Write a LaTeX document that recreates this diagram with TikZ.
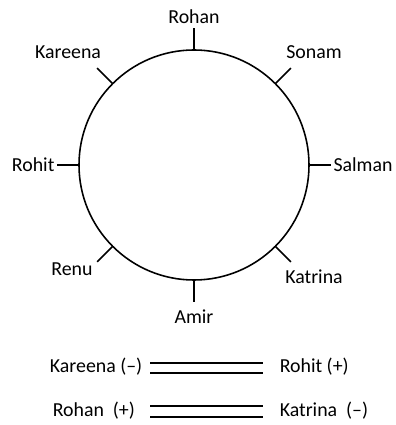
\documentclass[tikz,border=0pt]{standalone}
\usepackage{fontspec}
\setmainfont{Carlito}
\usetikzlibrary{calc, positioning}

\begin{document}
\begin{tikzpicture}[line width=0.9pt, every node/.style={font=\fontsize{11.3}{13}\selectfont, inner sep=1pt}]
            \useasboundingbox (-3.88,-5.20) rectangle (4.02,3.30);
            \draw (0,0) circle (2.3);
            \foreach \ang/\who in {90/rohan, 45/sonam, 0/salman, -45/katrina, -90/amir, -135/renu, 180/rohit, 135/kareena}
                \draw (\ang:2.3) -- (\ang:2.74) coordinate (t-\who);
            \node[anchor=south] (rohan) at ([yshift=1pt]t-rohan) {Rohan};
            \node (sonam) at (2.40,2.26) {Sonam};
            \node[anchor=west] (salman) at (t-salman) {Salman};
            \node (katrina) at (2.40,-2.24) {Katrina};
            \node[anchor=north] (amir) at ([yshift=-3pt]t-amir) {Amir};
            \node (renu) at (-2.44,-2.08) {Renu};
            \node[anchor=east] (rohit) at (t-rohit) {Rohit};
            \node (kareena) at (-2.52,2.26) {Kareena};

            \node[anchor=east, inner sep=0pt] (k1) at (-1.02,-4.04) {Kareena (--)};
            \node[anchor=west, inner sep=0pt] (r1) at (1.70,-4.04) {Rohit (+)};
            \node[anchor=west, inner sep=0pt] (r2) at (-2.84,-4.92) {Rohan~ (+)};
            \node[anchor=west, inner sep=0pt] (k2) at (1.70,-4.92) {Katrina~ (--)};
            \coordinate (a1) at (-0.88,-3.96); \coordinate (b1) at (1.38,-3.96);
            \coordinate (a2) at (-0.88,-4.16); \coordinate (b2) at (1.38,-4.16);
            \coordinate (a3) at (-0.88,-4.82); \coordinate (b3) at (1.38,-4.82);
            \coordinate (a4) at (-0.88,-5.04); \coordinate (b4) at (1.38,-5.04);
            \draw (a1) -- (b1);
            \draw (a2) -- (b2);
            \draw (a3) -- (b3);
            \draw (a4) -- (b4);
        \end{tikzpicture}
\end{document}
